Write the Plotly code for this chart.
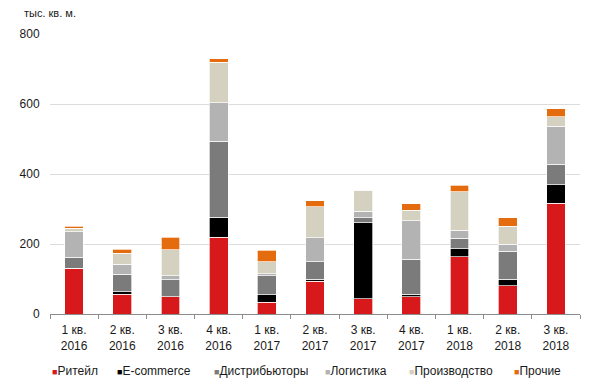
import plotly.graph_objects as go

categories = ["1 кв.<br>2016", "2 кв.<br>2016", "3 кв.<br>2016", "4 кв.<br>2016",
              "1 кв.<br>2017", "2 кв.<br>2017", "3 кв.<br>2017", "4 кв.<br>2017",
              "1 кв.<br>2018", "2 кв.<br>2018", "3 кв.<br>2018"]

retail = [130, 56, 49, 220, 34, 94, 43, 49, 163, 81, 317]
ecommerce = [1, 7, 1, 56, 21, 6, 218, 7, 23, 18, 52]
distributors = [31, 50, 48, 217, 54, 49, 14, 100, 31, 80, 59]
logistics = [73, 29, 11, 110, 6, 69, 18, 111, 23, 21, 109]
production = [10, 31, 75, 116, 34, 89, 61, 30, 109, 51, 27]
other = [6, 12, 36, 10, 33, 16, 1, 18, 19, 24, 22]

series_names = ["Ритейл", "E-commerce", "Дистрибьюторы", "Логистика", "Производство", "Прочие"]
series_values = [retail, ecommerce, distributors, logistics, production, other]
colors = ["#d7191c", "#000000", "#7b7b7b", "#b3b3b3", "#d5d1c0", "#e46c0e"]

y_ticks = [0, 200, 400, 600, 800]
unit_label = "тыс. кв. м."

FONT = "Liberation Sans, Arial, sans-serif"
TEXT = "#1a1a1a"

fig = go.Figure()
for name, vals, col in zip(series_names, series_values, colors):
    fig.add_trace(go.Bar(
        x=categories, y=vals, name=name,
        marker=dict(color=col, line=dict(color="rgba(255,255,255,0.85)", width=0.8)),
        showlegend=False,
    ))

# page has an 8px body margin -> figure is 592x376, offset by 8px
OFF = 8
W, H = 600 - OFF, 384 - OFF
L, R, T, B = 32, 20, 26, 70
pw = W - L - R
ph = H - T - B

fig.update_layout(
    width=W, height=H,
    barmode="stack", bargap=0.61,
    margin=dict(l=L, r=R, t=T, b=B, pad=0),
    plot_bgcolor="white", paper_bgcolor="white",
    font=dict(family=FONT, size=12, color=TEXT),
    xaxis=dict(
        type="category", showgrid=False, showline=True, linecolor="#8c8c8c", linewidth=1,
        ticks="outside", tickson="boundaries", ticklen=4, tickcolor="#8c8c8c",
        ticklabelstandoff=5,
        tickfont=dict(family=FONT, size=12, color=TEXT), fixedrange=True,
    ),
    yaxis=dict(
        range=[0, 800], tickvals=y_ticks, showgrid=True, gridcolor="#dcdcdc", gridwidth=1,
        zeroline=False, showline=False, ticks="outside", ticklen=7,
        tickcolor="rgba(0,0,0,0)",
        tickfont=dict(family=FONT, size=12, color=TEXT), fixedrange=True,
    ),
)

# unit label (page coords x=12, y=13)
fig.add_annotation(text=unit_label, xref="paper", yref="paper",
                   x=(11 - OFF - L) / pw, y=(H - B - (13 - OFF)) / ph,
                   xanchor="left", yanchor="middle",
                   showarrow=False, font=dict(family=FONT, size=11, color=TEXT))

# custom legend (compact Excel-like), page x positions
legend_px = [40, 106, 205, 318, 404, 511]
legend_y = 371
for name, col, px in zip(series_names, colors, legend_px):
    fig.add_annotation(
        text=f"<span style='color:{col};font-size:9px'>■</span>{name}",
        xref="paper", yref="paper", x=(px - OFF - L) / pw, y=(H - B - (legend_y - OFF)) / ph,
        xanchor="left", yanchor="middle", showarrow=False,
        font=dict(family=FONT, size=12, color=TEXT),
    )

fig.write_html("out.html")
